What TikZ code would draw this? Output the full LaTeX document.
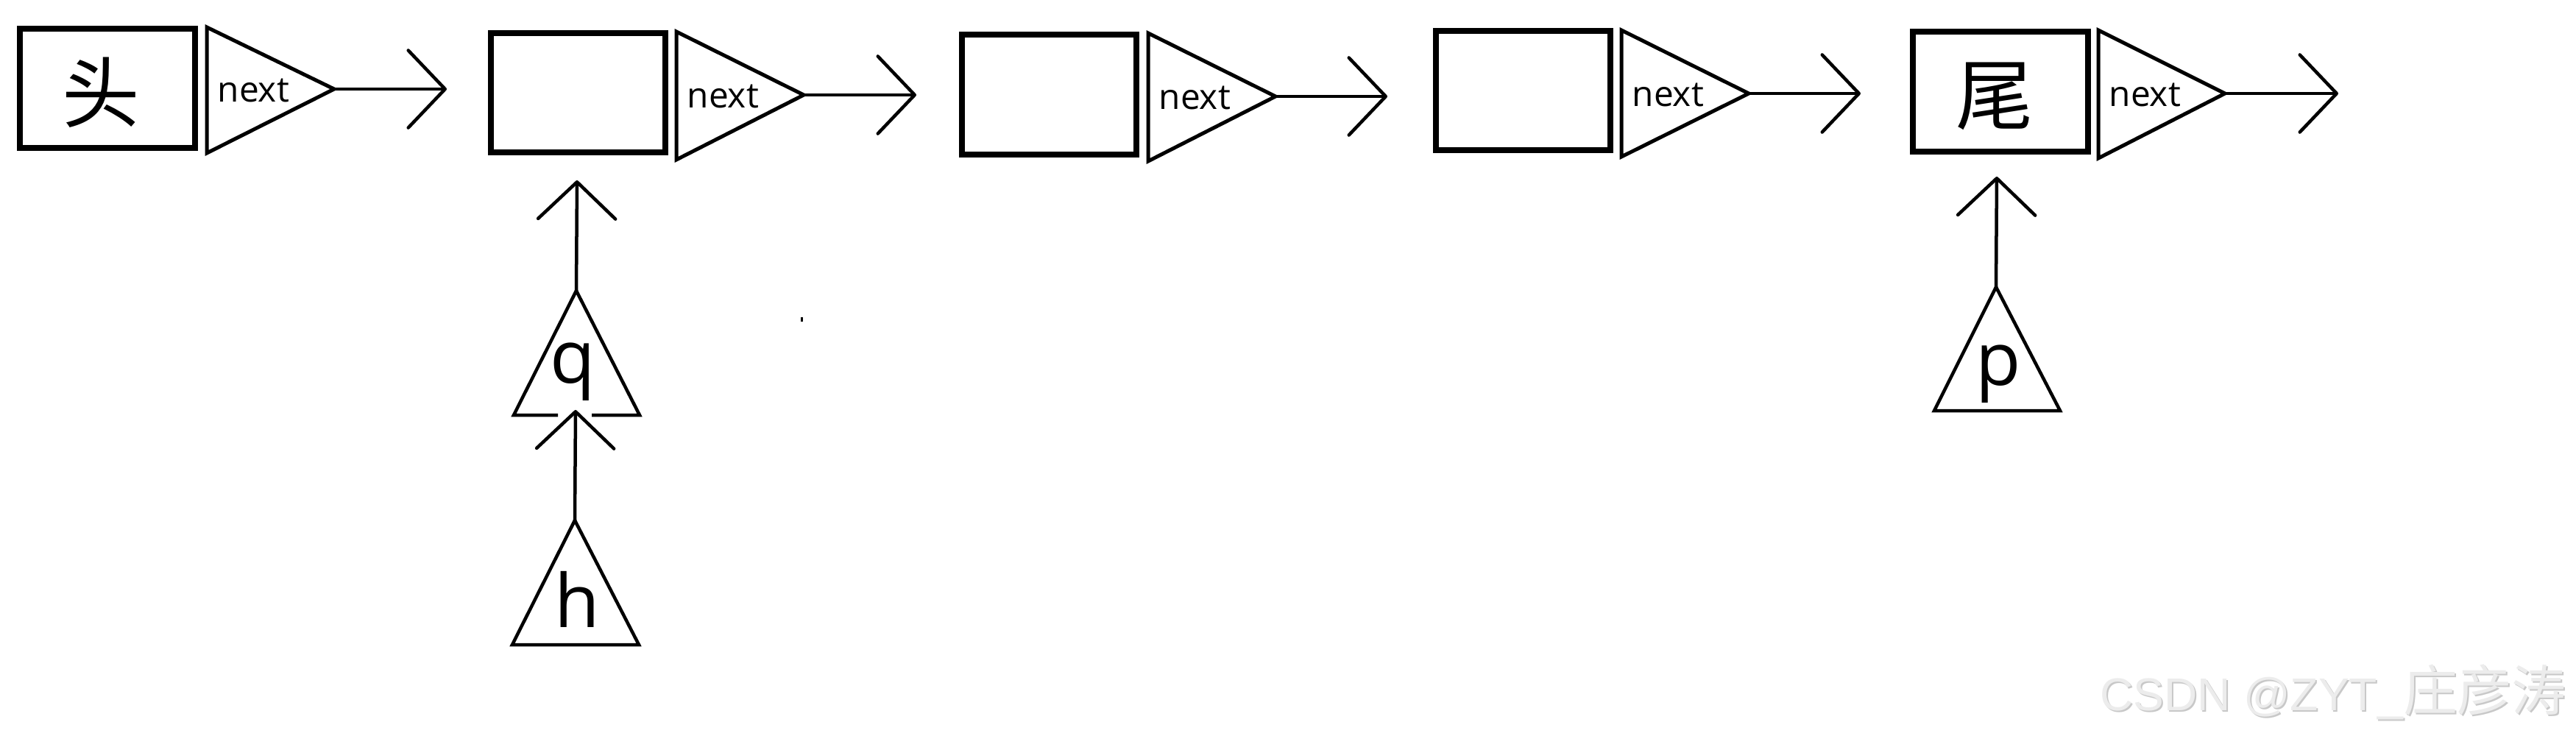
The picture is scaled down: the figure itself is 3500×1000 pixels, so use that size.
\documentclass[tikz,border=0pt]{standalone}
\usepackage{fontspec}
\setmainfont{Open Sans}
\newfontfamily\cjkfont{Noto Sans CJK SC}
\newfontfamily\wmfont{Liberation Sans}
\usetikzlibrary{arrows.meta}
\definecolor{wmfill}{RGB}{236,236,236}
\definecolor{wmshade}{RGB}{200,200,200}
\begin{document}
\begin{tikzpicture}[x=0.01cm,y=-0.01cm,
  databox/.style={draw, line width=0.08cm, minimum width=2.37cm, minimum height=1.62cm, inner sep=0pt},
  nexttri/.style={line width=0.05cm, line join=miter},
  ptrtri/.style={line width=0.045cm, line join=miter},
  link/.style={line width=0.045cm, line cap=round, -{Straight Barb[length=0.5cm,width=1.05cm,round]}},
  nexttext/.style={font=\fontsize{13.6pt}{14pt}\selectfont, inner sep=0pt, anchor=base west},
  ptrtext/.style={font=\fontsize{28.5pt}{30pt}\selectfont, inner sep=0pt, anchor=base},
  cjktext/.style={font=\cjkfont\fontsize{30pt}{32pt}\selectfont, inner sep=0pt},
  wmtext/.style={inner sep=0pt, anchor=base west}
]
\useasboundingbox (0,0) rectangle (3500,1000);

% ---- data boxes ----
\node[databox] (b1) at (146,120) {};
\node[databox] (b2) at (785.5,126) {};
\node[databox] (b3) at (1425.5,128.5) {};
\node[databox] (b4) at (2069.5,123) {};
\node[databox] (b5) at (2718,124.5) {};
\node[cjktext] (head) at (137,126) {头};
\node[cjktext] (tail) at (2710,131) {尾};

% ---- next triangles ----
\coordinate (t1a) at (454,121);
\coordinate (t2a) at (1092,129);
\coordinate (t3a) at (1733,131);
\coordinate (t4a) at (2376,127);
\coordinate (t5a) at (3023,127);
\draw[nexttri] (281,37) -- (t1a) -- (281,208) -- cycle;
\draw[nexttri] (919,43) -- (t2a) -- (919,217) -- cycle;
\draw[nexttri] (1560,45) -- (t3a) -- (1560,219) -- cycle;
\draw[nexttri] (2203,41) -- (t4a) -- (2203,213) -- cycle;
\draw[nexttri] (2851,41) -- (t5a) -- (2851,215) -- cycle;
\node[nexttext] (n1) at (295,138) {next};
\node[nexttext] (n2) at (933,146) {next};
\node[nexttext] (n3) at (1574,148) {next};
\node[nexttext] (n4) at (2217,144) {next};
\node[nexttext] (n5) at (2865,144) {next};

% ---- next arrows ----
\coordinate (e1) at (607,121);
\coordinate (e2) at (1245,129);
\coordinate (e3) at (1885,131);
\coordinate (e4) at (2528,127);
\coordinate (e5) at (3177,127);
\draw[link] (t1a) -- (e1);
\draw[link] (t2a) -- (e2);
\draw[link] (t3a) -- (e3);
\draw[link] (t4a) -- (e4);
\draw[link] (t5a) -- (e5);

% ---- pointer q ----
\coordinate (qa) at (783,395);
\coordinate (qtip) at (784,245);
\draw[ptrtri] (758,564) -- (698,564) -- (qa) -- (869,564) -- (804,564);
\node[ptrtext] (q) at (778,520) {q};
\draw[link] (qa) -- (qtip);

% ---- pointer h ----
\coordinate (ha) at (781,707);
\coordinate (htip) at (782,557);
\draw[ptrtri] (696,876) -- (ha) -- (868,876) -- cycle;
\node[ptrtext] (h) at (784,852) {h};
\draw[link] (ha) -- (htip);

% ---- pointer p ----
\coordinate (pa) at (2712,390);
\coordinate (ptip) at (2713,240);
\draw[ptrtri] (2628,558) -- (pa) -- (2799,558) -- cycle;
\node[ptrtext] (p) at (2715,523) {p};
\draw[link] (pa) -- (ptip);

% ---- stray dot ----
\fill (1088,431) rectangle (1091,437);

% ---- watermark ----
\node[wmtext, text=wmshade] (wms) at (2855,967) {\wmfont\fontsize{17.8pt}{20pt}\selectfont CSDN @ZYT\_\cjkfont\fontsize{21pt}{21pt}\selectfont 庄彦涛};
\node[wmtext, text=wmfill] (wm) at (2853,965) {\wmfont\fontsize{17.8pt}{20pt}\selectfont CSDN @ZYT\_\cjkfont\fontsize{21pt}{21pt}\selectfont 庄彦涛};
\end{tikzpicture}
\end{document}
